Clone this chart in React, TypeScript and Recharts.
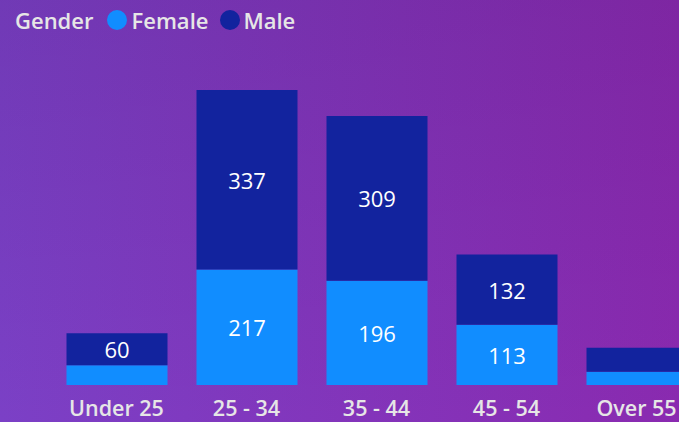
import { Bar, BarChart, XAxis, YAxis, LabelList } from "recharts";

const ageGroups = ["Under 25", "25 - 34", "35 - 44", "45 - 54", "Over 55"];
const female = [37, 217, 196, 113, 25];
const male = [60, 337, 309, 132, 45];

const FEMALE = "#118dff";
const MALE = "#12239e";
const FONT = "'Open Sans', 'Noto Sans', sans-serif";

const data = ageGroups.map((group, i) => ({
  group,
  female: female[i],
  male: male[i],
}));

// only label segments that are tall enough, like the original
function SegmentLabel(props: any) {
  const { x, y, width, height, value } = props;
  if (height < 30) return null;
  return (
    <text
      x={x + width / 2}
      y={y + height / 2}
      textAnchor="middle"
      dominantBaseline="central"
      fill="#ffffff"
      fontSize={22}
      fontFamily={FONT}
    >
      {value}
    </text>
  );
}

function AxisTick(props: any) {
  const { x, y, payload } = props;
  return (
    <text
      x={x}
      y={y}
      dy={29}
      textAnchor="middle"
      fill="#e6e6e6"
      fontSize={21.5}
      fontWeight={600}
      fontFamily={FONT}
    >
      {payload.value}
    </text>
  );
}

export default function App() {
  return (
    <div
      style={{
        position: "fixed",
        left: 0,
        top: 0,
        width: 679,
        height: 422,
        overflow: "hidden",
        background:
          "linear-gradient(to bottom, rgba(20,0,40,0.10), rgba(20,0,40,0)), linear-gradient(to right, #7b40c6, #8a2ab0)",
      }}
    >
      <div
        style={{
          position: "absolute",
          left: 15,
          top: 4,
          height: 32,
          display: "flex",
          alignItems: "center",
          fontFamily: FONT,
          fontSize: 22,
          fontWeight: 600,
          color: "#e6e6e6",
          zIndex: 2,
        }}
      >
        <span style={{ marginRight: 14 }}>Gender</span>
        <span style={{ width: 20, height: 20, borderRadius: 10, background: FEMALE, marginRight: 4 }} />
        <span style={{ marginRight: 12 }}>Female</span>
        <span style={{ width: 20, height: 20, borderRadius: 10, background: MALE, marginRight: 3 }} />
        <span>Male</span>
      </div>
      <BarChart
        width={720}
        height={422}
        data={data}
        margin={{ top: 65.5, right: 18.5, bottom: 0, left: 51.5 }}
        barSize={101}
      >
        <XAxis
          dataKey="group"
          height={37}
          axisLine={false}
          tickLine={false}
          tickSize={0}
          tick={<AxisTick />}
          interval={0}
        />
        <YAxis hide domain={[0, 600]} />
        <Bar dataKey="female" stackId="g" fill={FEMALE} isAnimationActive={false}>
          <LabelList dataKey="female" content={<SegmentLabel />} />
        </Bar>
        <Bar dataKey="male" stackId="g" fill={MALE} isAnimationActive={false}>
          <LabelList dataKey="male" content={<SegmentLabel />} />
        </Bar>
      </BarChart>
    </div>
  );
}
